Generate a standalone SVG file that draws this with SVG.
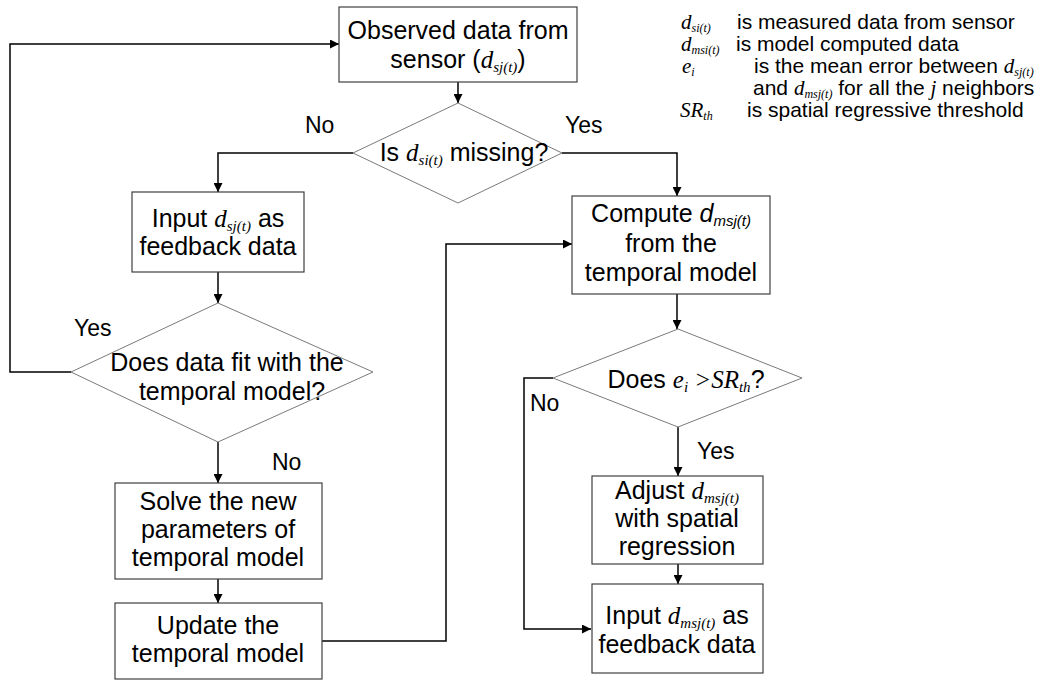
<svg xmlns="http://www.w3.org/2000/svg" width="1044" height="681" viewBox="0 0 1044 681">
  <style>
    .box { fill: #ffffff; stroke: #404040; stroke-width: 1.2; }
    .dia { fill: #ffffff; stroke: #7a7a7a; stroke-width: 1; }
    .t { font-family: "Liberation Sans", Arial, sans-serif; font-size: 25px; fill: #000000; text-anchor: middle; }
    .lbl { font-family: "Liberation Sans", Arial, sans-serif; font-size: 23px; fill: #000000; }
    .leg { font-family: "Liberation Sans", Arial, sans-serif; font-size: 21px; fill: #000000; }
    .m { font-family: "Liberation Serif", "Times New Roman", serif; font-style: italic; }
    .ms { font-family: "Liberation Sans", Arial, sans-serif; font-style: italic; }
    .conn path { fill: none; stroke: #000000; stroke-width: 1.5; marker-end: url(#arr); }
  </style>
  <defs>
    <marker id="arr" viewBox="0 0 10 10" refX="10" refY="5" markerWidth="9" markerHeight="9" markerUnits="userSpaceOnUse" orient="auto">
      <path d="M0,0 L10,5 L0,10 z" fill="#000000"/>
    </marker>
  </defs>
  <rect width="1044" height="681" fill="#ffffff"/>

  <!-- connectors -->
  <g id="connectors" class="conn">
    <path d="M458,82 V103"/>
    <path d="M353,153 H218 V192"/>
    <path d="M562,153 H677 V196"/>
    <path d="M218,272 V303"/>
    <path d="M71,372 H10 V44 H339"/>
    <path d="M218,442 V483"/>
    <path d="M218,579 V603"/>
    <path d="M322,641 H446 V244 H572"/>
    <path d="M677,294 V329"/>
    <path d="M553,378 H524 V629 H591"/>
    <path d="M678,427 V476"/>
    <path d="M678,564 V584"/>
  </g>

  <!-- branch labels -->
  <g id="labels">
    <text class="lbl" x="305" y="133">No</text>
    <text class="lbl" x="565" y="133">Yes</text>
    <text class="lbl" x="74" y="336">Yes</text>
    <text class="lbl" x="272" y="470">No</text>
    <text class="lbl" x="530" y="411">No</text>
    <text class="lbl" x="697" y="459">Yes</text>
  </g>

  <g id="observed">
    <rect class="box" x="339" y="7" width="238" height="75"/>
    <text class="t" x="458" y="39">Observed data from</text>
    <text class="t" x="458" y="68">sensor (<tspan class="m">d</tspan><tspan class="m" font-size="15" dy="4">sj(t)</tspan><tspan dy="-4">)</tspan></text>
  </g>

  <g id="missing">
    <polygon class="dia" points="458,103 562,153 458,203 353,153"/>
    <text class="t" x="464" y="161">Is <tspan class="m">d</tspan><tspan class="m" font-size="15" dy="4">si(t)</tspan><tspan dy="-4"> missing?</tspan></text>
  </g>

  <g id="input-sj">
    <rect class="box" x="132" y="192" width="172" height="80"/>
    <text class="t" x="218" y="227">Input <tspan class="m">d</tspan><tspan class="m" font-size="15" dy="4">sj(t)</tspan><tspan dy="-4"> as</tspan></text>
    <text class="t" x="218" y="255">feedback data</text>
  </g>

  <g id="fit">
    <polygon class="dia" points="218,303 373,372 218,442 71,372"/>
    <text class="t" x="227" y="371">Does data fit with the</text>
    <text class="t" x="232" y="400">temporal model?</text>
  </g>

  <g id="solve">
    <rect class="box" x="115" y="483" width="207" height="96"/>
    <text class="t" x="218" y="510">Solve the new</text>
    <text class="t" x="218" y="538">parameters of</text>
    <text class="t" x="218" y="566">temporal model</text>
  </g>

  <g id="update">
    <rect class="box" x="115" y="603" width="207" height="76"/>
    <text class="t" x="218" y="634">Update the</text>
    <text class="t" x="218" y="662">temporal model</text>
  </g>

  <g id="compute">
    <rect class="box" x="572" y="196" width="198" height="98"/>
    <text class="t" x="671" y="222">Compute <tspan class="ms">d</tspan><tspan class="ms" font-size="15" dy="4">msj(t)</tspan></text>
    <text class="t" x="671" y="252">from the</text>
    <text class="t" x="671" y="281">temporal model</text>
  </g>

  <g id="threshold">
    <polygon class="dia" points="678,329 802,378 678,427 553,378"/>
    <text class="t" x="686" y="388">Does <tspan class="m">e</tspan><tspan class="m" font-size="15" dy="4">i</tspan><tspan class="m" dy="-4"> &gt;SR</tspan><tspan class="m" font-size="15" dy="4">th</tspan><tspan dy="-4">?</tspan></text>
  </g>

  <g id="adjust">
    <rect class="box" x="592" y="476" width="171" height="88"/>
    <text class="t" x="677" y="499">Adjust <tspan class="m">d</tspan><tspan class="m" font-size="15" dy="4">msj(t)</tspan></text>
    <text class="t" x="677" y="527">with spatial</text>
    <text class="t" x="677" y="555">regression</text>
  </g>

  <g id="input-msj">
    <rect class="box" x="592" y="584" width="171" height="89"/>
    <text class="t" x="677" y="624">Input <tspan class="m">d</tspan><tspan class="m" font-size="15" dy="4">msj(t)</tspan><tspan dy="-4"> as</tspan></text>
    <text class="t" x="677" y="653">feedback data</text>
  </g>

  <!-- symbol legend -->
  <g id="legend" class="leg">
    <text x="681" y="29"><tspan class="m">d</tspan><tspan class="m" font-size="12" dy="3">si(t)</tspan></text>
    <text x="737" y="29">is measured data from sensor</text>
    <text x="681" y="51"><tspan class="m">d</tspan><tspan class="m" font-size="12" dy="3">msi(t)</tspan></text>
    <text x="736" y="51">is model computed data</text>
    <text x="682" y="73"><tspan class="m">e</tspan><tspan class="m" font-size="12" dy="3">i</tspan></text>
    <text x="754" y="73">is the mean error between <tspan class="m">d</tspan><tspan class="m" font-size="12" dy="3">sj(t)</tspan></text>
    <text x="753" y="95">and <tspan class="m">d</tspan><tspan class="m" font-size="12" dy="3">msj(t)</tspan><tspan dy="-3"> for all the </tspan><tspan class="m">j</tspan> neighbors</text>
    <text x="680" y="117"><tspan class="m">SR</tspan><tspan class="m" font-size="12" dy="3">th</tspan></text>
    <text x="747" y="117">is spatial regressive threshold</text>
  </g>
</svg>
